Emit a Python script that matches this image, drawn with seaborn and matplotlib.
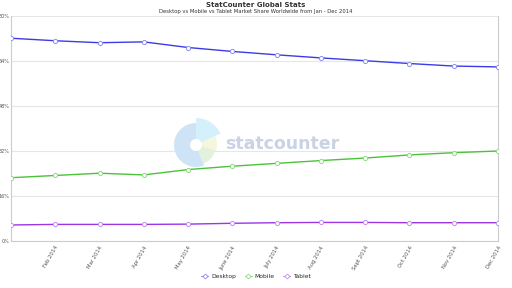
import numpy as np
import pandas as pd
import seaborn as sns
import matplotlib
matplotlib.use("Agg")
import matplotlib.pyplot as plt
from matplotlib.patches import Wedge
from matplotlib.lines import Line2D

months = ["Jan 2014", "Feb 2014", "Mar 2014", "Apr 2014", "May 2014", "June 2014",
          "July 2014", "Aug 2014", "Sept 2014", "Oct 2014", "Nov 2014", "Dec 2014"]
desktop = [72.1, 71.2, 70.5, 70.8, 68.8, 67.4, 66.2, 65.1, 64.1, 63.1, 62.2, 61.9]
mobile = [22.5, 23.3, 24.1, 23.5, 25.4, 26.6, 27.6, 28.6, 29.5, 30.6, 31.4, 32.0]
tablet = [5.7, 5.9, 5.9, 5.9, 6.0, 6.3, 6.5, 6.6, 6.6, 6.5, 6.5, 6.5]
series = ["Desktop", "Mobile", "Tablet"]
colors = {"Desktop": "#3b3be8", "Mobile": "#4cc23a", "Tablet": "#9b35e6"}
marker_edges = {"Desktop": "#8f8ff2", "Mobile": "#8fdc84", "Tablet": "#c48ef0"}
yticks = [0, 16, 32, 48, 64, 80]

df = pd.DataFrame({
    "idx": list(range(len(months))) * 3,
    "share": desktop + mobile + tablet,
    "platform": [s for s in series for _ in months],
})

sns.set_theme(style="white")
plt.rcParams["font.family"] = ["DejaVu Sans"]

fig = plt.figure(figsize=(5.12, 2.88), dpi=100)
ax = fig.add_axes([11/512, 1 - 241/288, (498 - 11)/512, (241 - 16)/288])

# watermark logo
lax = fig.add_axes([(196 - 30)/512, 1 - (145 + 30)/288, 60/512, 60/288])
lax.set_xlim(-30, 30); lax.set_ylim(-30, 30); lax.set_aspect("equal"); lax.axis("off")
lax.add_patch(Wedge((0, 0), 22, 90, 292, width=16, facecolor="#cfe3f6", edgecolor="none"))
lax.add_patch(Wedge((0, 0), 27, 25, 90, width=21, facecolor="#d3f0fb", edgecolor="none"))
lax.add_patch(Wedge((0, 0), 21, -15, 25, width=15, facecolor="#f4f7dc", edgecolor="none"))
lax.add_patch(Wedge((0, 0), 20, -68, -15, width=14, facecolor="#e3f0dc", edgecolor="none"))
fig.text(282/512, 1 - 144/288, "statcounter", fontsize=12.5, fontweight="bold",
         color="#c9d3e3", ha="center", va="center")

sns.lineplot(data=df, x="idx", y="share", hue="platform", palette=colors, ax=ax,
             linewidth=1.0, legend=False, zorder=3, dashes=False)
for line, s in zip(ax.lines, series):
    line.set_linestyle("-")
    line.set_marker("o")
    line.set_markersize(3)
    line.set_markerfacecolor("white")
    line.set_markeredgecolor(marker_edges[s])
    line.set_markeredgewidth(0.7)

ax.set_xlim(0, 11)
ax.set_ylim(0, 80)
ax.set_yticks(yticks)
ax.set_yticklabels([f"{v}%" for v in yticks], fontsize=3.5, color="#555555")
ax.set_xticks(range(1, 12))
ax.set_xticklabels(months[1:], rotation=60, ha="right", rotation_mode="anchor",
                   fontsize=3.8, color="#555555")
ax.tick_params(axis="x", length=0, pad=3)
ax.tick_params(axis="y", length=0, pad=1)
ax.set_xlabel(""); ax.set_ylabel("")
ax.grid(axis="y", color="#e6e6e6", linewidth=0.8)
ax.set_axisbelow(True)
ax.patch.set_alpha(0)
for sp in ax.spines.values():
    sp.set_color("#cccccc")
    sp.set_linewidth(0.8)
ax.spines["top"].set_visible(False)

fig.text(0.5, 1 - 5/288, "StatCounter Global Stats", fontsize=5, fontweight="bold",
         ha="center", va="center", color="#333333")
fig.text(0.5, 1 - 11/288, "Desktop vs Mobile vs Tablet Market Share Worldwide from Jan - Dec 2014",
         fontsize=3.8, ha="center", va="center", color="#333333")

handles = [Line2D([0], [0], color=marker_edges[s], marker="D", markersize=2.5,
                  markerfacecolor="white", markeredgewidth=0.6, linewidth=0.8) for s in series]
fig.legend(handles, series, loc="center", bbox_to_anchor=(0.5, 1 - 276/288), ncol=3,
           frameon=False, fontsize=4.3, handlelength=1.2, columnspacing=1.5, handletextpad=0.4)

fig.savefig("out.png", dpi=100)
